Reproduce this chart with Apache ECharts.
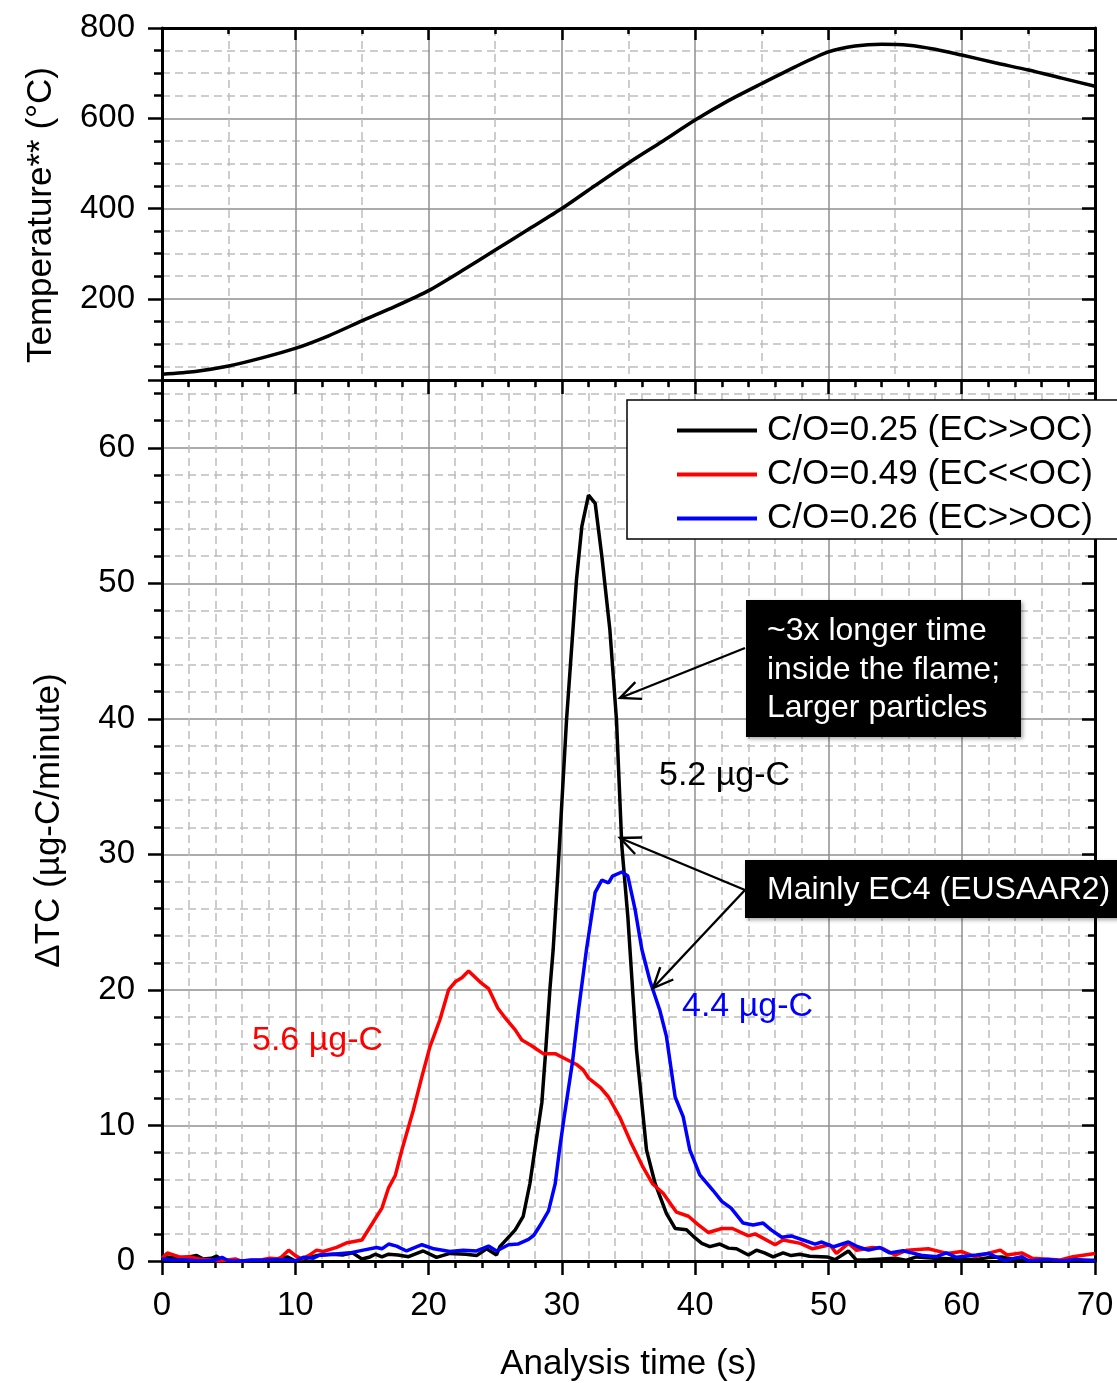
<!DOCTYPE html>
<html><head><meta charset="utf-8">
<script src="https://cdn.jsdelivr.net/npm/echarts@6/dist/echarts.min.js"></script>
<style>html,body{margin:0;padding:0;background:#fff}#c{width:1117px;height:1383px}</style>
</head><body><div id="c"></div>
<script>
const FONT = '"Liberation Sans", Arial, sans-serif';

// ---- Data ----
const tempTime   = [0, 2.5, 5, 7.5, 10, 12.5, 15, 17.5, 20, 22.5, 25, 27.5, 30, 32.5, 35, 37.5, 40, 42.5, 45, 47.5, 50, 52, 54, 56, 58, 60, 62.5, 65, 67.5, 70];
const tempValues = [33, 39, 51, 69, 90, 118, 151, 183, 218, 262, 308, 354, 400, 451, 501, 548, 596, 639, 677, 714, 747, 760, 764, 762, 753, 740, 723, 707, 689, 671];

const blackTime = [0,0.4,1.2,2.1,2.6,3.1,3.7,4.1,4.5,5.5,7,8.2,9.4,10,10.8,11.6,12.8,13.6,14.3,15,15.6,16,16.5,17,17.7,18.5,19.6,20.6,21.6,22.8,23.6,24.35,25.1,25.35,26.5,27.1,27.6,28,28.5,28.75,29.1,29.35,29.7,30.35,31.1,31.5,32,32.5,33,33.6,34.1,34.5,34.95,35.6,36.35,37,37.85,38.5,39.35,40,40.5,41.1,41.85,42.5,43.1,44,44.6,45.2,45.85,46.6,47.2,47.85,48.6,49.9,50.5,51.5,52.1,53,54,55,55.8,56.6,58,59.5,61,62,63,64,65,67,70];
const blackValues = [0.2,0.3,0.2,0.32,0.4,0.15,0.2,0.35,0.05,0,0,0.1,0.3,0,0.2,0.4,0.5,0.45,0.6,0.15,0.3,0.5,0.3,0.5,0.45,0.32,0.74,0.27,0.56,0.5,0.4,0.9,0.45,1.06,2.3,3.3,5.7,8.4,11.7,15,20,23,28.6,39.9,50.3,54.2,56.5,55.9,52,46.6,39.9,30.6,25.4,15.6,8.2,5.7,3.5,2.4,2.3,1.7,1.3,1.06,1.25,0.95,0.9,0.44,0.8,0.6,0.3,0.6,0.4,0.5,0.35,0.3,0.1,0.74,0.07,0.1,0.15,0.2,0.05,0.3,0.2,0.15,0.1,0.25,0.3,0.1,0.05,0,0.05];

const redTime = [0,0.4,1.3,2.1,2.8,3.5,4.3,5.5,5.9,7.5,8.1,8.8,9.5,10,10.5,11,11.6,12.1,13.1,13.9,15,15.8,16.5,17,17.5,18,18.85,19.5,20.1,20.85,21.5,22,22.5,23,23.85,24.5,25.2,25.7,26.5,27,27.7,28.6,29.5,30.1,31.1,31.6,32,32.9,33.5,34.35,35.2,36.1,36.8,37.6,38.6,39.5,40.2,41,42,42.8,44,44.5,46,46.6,47.9,48.8,50.1,50.6,51.5,52.1,53.3,54,55,55.9,57.5,58.9,60,61,62.9,63.4,64.5,65.3,67.4,68.35,70];
const redValues = [0.2,0.6,0.3,0.3,0.15,0.1,0,0.15,0,0.1,0.2,0.15,0.8,0.4,0.15,0.4,0.8,0.7,1.0,1.35,1.55,2.8,3.9,5.4,6.3,8.2,11.1,13.6,15.8,17.8,20,20.6,20.9,21.4,20.6,20.1,18.65,18,17.05,16.3,15.9,15.3,15.3,15.0,14.5,14.1,13.5,12.8,12.1,10.6,8.7,6.9,5.7,5.0,3.6,3.3,2.7,2.1,2.4,2.4,1.85,2.0,1.2,1.55,1.3,0.9,1.2,0.56,1.3,0.8,1.0,0.95,0.44,0.8,0.9,0.56,0.7,0.32,0.8,0.44,0.6,0.2,0.07,0.32,0.56];

const blueTime = [0,0.8,1.6,2.8,3.9,4.5,5,6,6.7,7.5,8.4,9.35,10,10.6,11.35,11.85,12.8,14.1,15.1,16.1,16.5,17,17.6,18.35,19.5,20.4,21.6,22.6,23.6,24.5,25.1,26,26.7,27.5,27.9,28.35,29,29.5,29.85,30.2,30.8,31.25,31.85,32.5,33,33.5,33.8,34.5,34.95,35.5,36,36.6,37.35,37.85,38.5,39.1,39.6,40.35,41.35,42,42.7,43.6,44.35,45.1,45.7,46.5,47.2,48.1,49,49.5,50.4,51.5,52.2,53,53.85,54.6,55.6,57.1,58.1,58.85,59.6,61.1,62,63.2,64.5,65,66.5,67.5,68.6,70];
const blueValues = [0.15,0.05,0.1,0,0.05,0.27,0,0,0.07,0.05,0.1,0.1,0,0.27,0.2,0.44,0.5,0.6,0.8,1.0,0.9,1.25,1.1,0.74,1.2,0.9,0.7,0.8,0.74,1.1,0.74,1.2,1.25,1.6,1.9,2.6,3.7,5.7,8.4,10.8,14.7,18.5,23,27.2,28.1,27.9,28.4,28.7,28.4,25.9,23,20.7,18.5,16.55,12.1,10.65,8.2,6.35,5.2,4.4,3.9,2.8,2.65,2.8,2.3,1.75,1.85,1.55,1.25,1.4,1.05,1.4,1.05,0.8,1.0,0.6,0.76,0.4,0.32,0.6,0.27,0.44,0.56,0.02,0.32,0,0.12,0,0.12,0];

const seriesNames = ['C/O=0.25 (EC>>OC)', 'C/O=0.49 (EC<<OC)', 'C/O=0.26 (EC>>OC)'];
const seriesColors = ['#000000', '#ff0000', '#0000ff'];

const zip = (a, b) => a.map((v, i) => [v, b[i]]);

// ---- Styles ----
const majorGrid = {show: true, lineStyle: {color: '#8f8f8f', width: 1.5, type: 'solid'}};
const minorGrid = {show: true, lineStyle: {color: '#bdbdbd', width: 1.5, type: [8, 5]}};
const axLine = {show: true, onZero: false, lineStyle: {color: '#000', width: 3}};
const labelStyle = {color: '#000', fontSize: 33, fontFamily: FONT};
const nameStyle = {color: '#000', fontSize: 35, fontFamily: FONT};
const LW = 3.5;

const chart = echarts.init(document.getElementById('c'), null, {renderer: 'canvas'});

function arrow(x1, y1, x2, y2) {
  const a = Math.atan2(y1 - y2, x1 - x2), L = 22, w = 0.42;
  const p1 = [x2 + L * Math.cos(a + w), y2 + L * Math.sin(a + w)];
  const p2 = [x2 + L * Math.cos(a - w), y2 + L * Math.sin(a - w)];
  return [
    {type: 'line', z: 100, shape: {x1, y1, x2, y2}, style: {stroke: '#000', lineWidth: 2.4}},
    {type: 'polyline', z: 100, shape: {points: [p1, [x2, y2], p2]}, style: {stroke: '#000', lineWidth: 2.4, fill: null}}
  ];
}

const boxShadow = {shadowBlur: 4, shadowColor: 'rgba(0,0,0,0.35)', shadowOffsetX: 2, shadowOffsetY: 2};

const option = {
  backgroundColor: '#fff',
  animation: false,
  textStyle: {fontFamily: FONT},
  grid: [
    {left: 162, right: 22, top: 28, height: 352, containLabel: false, outerBoundsMode: 'none'},
    {left: 162, right: 22, top: 380, bottom: 122, containLabel: false, outerBoundsMode: 'none'}
  ],
  legend: {
    data: seriesNames,
    orient: 'vertical',
    left: 627, top: 400,
    padding: [13, 40, 3, 50],
    itemGap: 9,
    itemWidth: 80, itemHeight: 4,
    icon: 'rect',
    backgroundColor: '#fff',
    borderColor: '#000', borderWidth: 1.5,
    textStyle: {color: '#000', fontSize: 35, fontFamily: FONT, padding: [0, 0, 0, 5]},
    selectedMode: false,
    z: 50
  },
  xAxis: [
    {gridIndex: 0, type: 'value', position: 'bottom', min: 0, max: 70, interval: 10,
     axisLine: {show: false}, axisTick: {show: false}, axisLabel: {show: false},
     splitLine: majorGrid, minorTick: {show: false, splitNumber: 2}, minorSplitLine: minorGrid},
    {gridIndex: 0, type: 'value', position: 'top', min: 0, max: 70, interval: 10,
     axisLine: axLine, axisTick: {show: true, inside: true, length: 12, lineStyle: {color: '#000', width: 2.5}},
     minorTick: {show: true, splitNumber: 2, length: 6, lineStyle: {color: '#000', width: 2.5}},
     axisLabel: {show: false}, splitLine: {show: false}},
    {gridIndex: 1, type: 'value', position: 'bottom', min: 0, max: 70, interval: 10,
     name: 'Analysis time (s)', nameLocation: 'middle', nameGap: 86, nameTextStyle: nameStyle,
     axisLine: axLine, axisTick: {show: true, inside: false, length: 14, lineStyle: {color: '#000', width: 2.5}},
     minorTick: {show: true, splitNumber: 5, length: 7, lineStyle: {color: '#000', width: 2.5}},
     axisLabel: Object.assign({margin: 28}, labelStyle),
     splitLine: majorGrid, minorSplitLine: minorGrid},
    {gridIndex: 1, type: 'value', position: 'top', min: 0, max: 70, interval: 10,
     axisLine: axLine, axisTick: {show: true, inside: true, length: 14, lineStyle: {color: '#000', width: 2.5}},
     minorTick: {show: true, splitNumber: 5, length: 7, lineStyle: {color: '#000', width: 2.5}},
     axisLabel: {show: false}, splitLine: {show: false}}
  ],
  yAxis: [
    {gridIndex: 0, type: 'value', position: 'left', min: 20, max: 800, splitNumber: 4,
     name: 'Temperature** (°C)', nameLocation: 'middle', nameGap: 103,
     nameTextStyle: Object.assign({padding: [0, 22, 0, 0]}, nameStyle),
     axisLine: axLine, axisTick: {show: true, inside: false, length: 14, lineStyle: {color: '#000', width: 2.5}},
     minorTick: {show: true, splitNumber: 4, length: 8, lineStyle: {color: '#000', width: 2.5}},
     axisLabel: Object.assign({margin: 27, showMinLabel: false}, labelStyle),
     splitLine: majorGrid, minorSplitLine: minorGrid},
    {gridIndex: 0, type: 'value', position: 'right', min: 20, max: 800, splitNumber: 4,
     axisLine: axLine, axisTick: {show: true, inside: true, length: 13, lineStyle: {color: '#000', width: 2.5}},
     minorTick: {show: true, splitNumber: 4, length: 7, lineStyle: {color: '#000', width: 2.5}},
     axisLabel: {show: false}, splitLine: {show: false}},
    {gridIndex: 1, type: 'value', position: 'left', min: 0, max: 65, interval: 10,
     name: 'ΔTC (µg-C/minute)', nameLocation: 'middle', nameGap: 95, nameTextStyle: nameStyle,
     axisLine: axLine, axisTick: {show: true, inside: false, length: 14, lineStyle: {color: '#000', width: 2.5}},
     minorTick: {show: true, splitNumber: 5, length: 8, lineStyle: {color: '#000', width: 2.5}},
     axisLabel: Object.assign({margin: 27, showMaxLabel: false}, labelStyle),
     splitLine: majorGrid, minorSplitLine: minorGrid},
    {gridIndex: 1, type: 'value', position: 'right', min: 0, max: 65, interval: 10,
     axisLine: axLine, axisTick: {show: true, inside: true, length: 13, lineStyle: {color: '#000', width: 2.5}},
     minorTick: {show: true, splitNumber: 5, length: 7, lineStyle: {color: '#000', width: 2.5}},
     axisLabel: {show: false}, splitLine: {show: false}}
  ],
  series: [
    {name: 'Temperature', type: 'line', xAxisIndex: 0, yAxisIndex: 0, data: zip(tempTime, tempValues),
     showSymbol: false, symbol: 'none', smooth: 0.25, lineStyle: {color: '#000', width: LW}, z: 3},
    {name: seriesNames[0], type: 'line', xAxisIndex: 2, yAxisIndex: 2, data: zip(blackTime, blackValues),
     showSymbol: false, symbol: 'none', itemStyle: {color: seriesColors[0]}, lineStyle: {color: seriesColors[0], width: LW}, z: 3},
    {name: seriesNames[1], type: 'line', xAxisIndex: 2, yAxisIndex: 2, data: zip(redTime, redValues),
     showSymbol: false, symbol: 'none', itemStyle: {color: seriesColors[1]}, lineStyle: {color: seriesColors[1], width: LW}, z: 3},
    {name: seriesNames[2], type: 'line', xAxisIndex: 2, yAxisIndex: 2, data: zip(blueTime, blueValues),
     showSymbol: false, symbol: 'none', itemStyle: {color: seriesColors[2]}, lineStyle: {color: seriesColors[2], width: LW}, z: 3}
  ],
  graphic: [
    ...arrow(745, 648, 620, 698),
    ...arrow(745, 890, 620, 838),
    ...arrow(745, 890, 653, 988),
    {type: 'rect', z: 101, shape: {x: 746, y: 600, width: 275, height: 137}, style: Object.assign({fill: '#000'}, boxShadow)},
    {type: 'text', z: 102, style: {x: 767, y: 612, text: '~3x longer time\ninside the flame;\nLarger particles',
      fill: '#fff', fontSize: 32, fontFamily: FONT, lineHeight: 38.5, verticalAlign: 'top'}},
    {type: 'rect', z: 101, shape: {x: 745, y: 860, width: 390, height: 58}, style: Object.assign({fill: '#000'}, boxShadow)},
    {type: 'text', z: 102, style: {x: 767, y: 890, text: 'Mainly EC4 (EUSAAR2)',
      fill: '#fff', fontSize: 32, fontFamily: FONT, verticalAlign: 'middle'}},
    {type: 'text', z: 102, style: {x: 659, y: 776, text: '5.2 µg-C', fill: '#000', fontSize: 34, fontFamily: FONT, verticalAlign: 'middle'}},
    {type: 'text', z: 102, style: {x: 682, y: 1007, text: '4.4 µg-C', fill: '#0000ff', fontSize: 34, fontFamily: FONT, verticalAlign: 'middle'}},
    {type: 'text', z: 102, style: {x: 252, y: 1041, text: '5.6 µg-C', fill: '#ff0000', fontSize: 34, fontFamily: FONT, verticalAlign: 'middle'}}
  ]
};
chart.setOption(option);
</script></body></html>
